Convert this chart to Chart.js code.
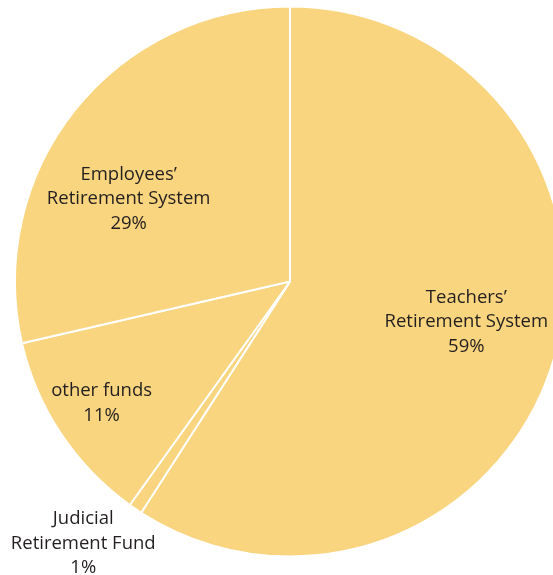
<!DOCTYPE html>
<html>
<head>
<meta charset="utf-8">
<script src="https://cdn.jsdelivr.net/npm/chart.js@4/dist/chart.umd.min.js"></script>
<style>
  html, body { margin: 0; padding: 0; background: #ffffff; overflow: hidden; width: 553px; height: 575px; }
  #wrap { position: relative; width: 580px; height: 575px; }
</style>
</head>
<body>
<div id="wrap"><canvas id="c" width="580" height="575"></canvas></div>
<script>
// Data
const categories = ["Teachers’ Retirement System", "Judicial Retirement Fund", "other funds", "Employees’ Retirement System"];
const values = [59.1, 0.8, 11.5, 28.6];
const percentLabels = ["59%", "1%", "11%", "29%"];
const labelLines = [
  ["Teachers’", "Retirement System"],
  ["Judicial", "Retirement Fund"],
  ["other funds"],
  ["Employees’", "Retirement System"]
];

// Label placement (polar, relative to the chart centre/radius)
const labelAngleDeg = [103, 218.3, 237.1, 297.1];
const labelRadiusFrac = [0.658, 1.213, 0.816, 0.659];

const labelPlugin = {
  id: 'sliceLabels',
  afterDatasetsDraw(chart) {
    const ctx = chart.ctx;
    const meta = chart.getDatasetMeta(0);
    ctx.save();
    ctx.font = '18.5px "Open Sans", sans-serif';
    ctx.fillStyle = '#231f20';
    ctx.textAlign = 'center';
    ctx.textBaseline = 'middle';
    meta.data.forEach((arc, i) => {
      const cx = arc.x, cy = arc.y, r = arc.outerRadius;
      const a = (labelAngleDeg[i] - 90) * Math.PI / 180;
      const x = cx + Math.cos(a) * r * labelRadiusFrac[i];
      const y = cy + Math.sin(a) * r * labelRadiusFrac[i];
      const lines = labelLines[i].concat([percentLabels[i]]);
      const lh = 24.5;
      const y0 = y - (lines.length - 1) * lh / 2;
      lines.forEach((t, k) => ctx.fillText(t, x, y0 + k * lh));
    });
    ctx.restore();
  }
};

new Chart(document.getElementById('c'), {
  type: 'pie',
  data: {
    labels: categories,
    datasets: [{
      data: values,
      backgroundColor: '#F8D57E',
      borderColor: '#ffffff',
      borderWidth: 2
    }]
  },
  options: {
    responsive: false,
    animation: false,
    layout: { padding: { top: 5, bottom: 17, left: 14, right: 14 } },
    plugins: { legend: { display: false }, tooltip: { enabled: false } }
  },
  plugins: [labelPlugin]
});
</script>
</body>
</html>
